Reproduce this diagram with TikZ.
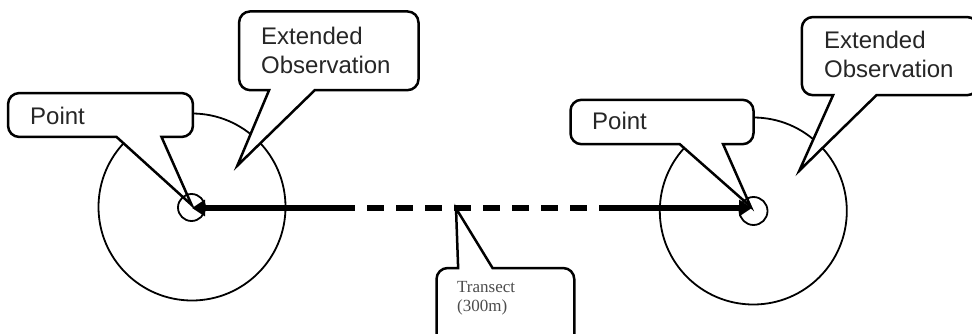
\documentclass[tikz,border=0pt]{standalone}
\usepackage{fontspec}
\setmainfont{Liberation Sans}
\newfontfamily\transectface{Liberation Serif}
\usetikzlibrary{arrows.meta,calc}

\tikzset{
  ring/.style={draw, circle, line width=1.8pt, inner sep=0pt, minimum size=#1},
  boxarea/.style 2 args={rectangle, inner sep=0pt, minimum width=#1, minimum height=#2},
  balloonline/.style={draw=black, fill=white, line width=2.5pt, line join=miter},
  lbl/.style={inner sep=0pt, text=black!85, font=\fontsize{24pt}{29.5pt}\selectfont},
  smalllbl/.style={inner sep=0pt, text=black!70, font=\transectface\fontsize{17pt}{18.7pt}\selectfont},
  trline/.style={line width=6pt},
  tip/.tip={Triangle[length=13pt,width=16pt]}
}

\def\br{11pt}
% callout with pointer leaving the bottom edge:
% #1 box node, #2/#3 pointer base offsets from left edge, #4 pointer tip
\newcommand\balloon[4]{%
  \draw[balloonline] ($(#1.south west)+(#2,0)$) -- (#4) -- ($(#1.south west)+(#3,0)$)
    -- ($(#1.south east)+(-\br,0)$) arc[start angle=-90,end angle=0,radius=\br]
    -- ($(#1.north east)+(0,-\br)$) arc[start angle=0,end angle=90,radius=\br]
    -- ($(#1.north west)+(\br,0)$) arc[start angle=90,end angle=180,radius=\br]
    -- ($(#1.south west)+(0,\br)$) arc[start angle=180,end angle=270,radius=\br]
    -- cycle;}
% callout with pointer leaving the top edge
\newcommand\balloonup[4]{%
  \draw[balloonline] ($(#1.north west)+(#2,0)$) -- (#4) -- ($(#1.north west)+(#3,0)$)
    -- ($(#1.north east)+(-\br,0)$) arc[start angle=90,end angle=0,radius=\br]
    -- ($(#1.south east)+(0,\br)$) arc[start angle=0,end angle=-90,radius=\br]
    -- ($(#1.south west)+(\br,0)$) arc[start angle=270,end angle=180,radius=\br]
    -- ($(#1.north west)+(0,-\br)$) arc[start angle=180,end angle=90,radius=\br]
    -- cycle;}

\begin{document}
\begin{tikzpicture}[x=1pt,y=1pt]
\useasboundingbox (0,0) rectangle (972,333);
\fill[white] (0,0) rectangle (972,333);
\clip (0,0) rectangle (972,333);

% observation areas
\node[ring=187pt] (areaL) at (192,126) {};
\node[ring=187pt] (areaR) at (753.3,122) {};

% callout boxes
\node[boxarea={179pt}{78.3pt}] (extLbox) at (328.8,282.2) {};
\node[boxarea={184.4pt}{43.4pt}] (ptLbox) at (100.5,218) {};
\node[boxarea={176pt}{77.7pt}] (extRbox) at (890,276.9) {};
\node[boxarea={182.6pt}{44pt}] (ptRbox) at (662,211) {};
\node[boxarea={137.3pt}{76.7pt}] (trbox) at (505.4,26.4) {};

% pointer tips
\coordinate (aimExtL) at (237.3,167.3);
\coordinate (aimPtL) at (191.7,128);
\coordinate (aimExtR) at (799.3,162.3);
\coordinate (aimPtR) at (750.7,126.3);
\coordinate (aimTr) at (456,124.7);

\balloon{extLbox}{30}{75.7}{aimExtL}
\balloon{ptLbox}{108.4}{153.4}{aimPtL}
\balloon{extRbox}{31.3}{74.7}{aimExtR}
\balloon{ptRbox}{109.3}{152.6}{aimPtR}
\balloonup{trbox}{21.6}{56}{aimTr}

% labels
\node[lbl, anchor=base west] (extLtext) at (261,289) {\parbox[t]{150pt}{Extended\\Observation}};
\node[lbl, anchor=base west] (ptLtext) at (30,208.7) {Point};
\node[lbl, anchor=base west] (extRtext) at (824,284.7) {\parbox[t]{150pt}{Extended\\Observation}};
\node[lbl, anchor=base west] (ptRtext) at (592,203.7) {Point};
\node[smalllbl, anchor=base west] (trtext) at (457,40.3) {\parbox[t]{100pt}{Transect\\(300m)}};

% transect between the two points
\coordinate (endL) at (192,125);
\coordinate (dashA) at (355,125);
\coordinate (dashB) at (599,125);
\coordinate (endR) at (752,125);
\draw[trline, tip-] (endL) -- (dashA);
\draw[trline, dash pattern=on 17pt off 12pt, dash phase=17pt] (dashA) -- (dashB);
\draw[trline, -tip] (dashB) -- (endR);

% point markers
\node[ring=27pt] (ptL) at (191.5,125.5) {};
\node[ring=28pt] (ptR) at (753.5,122) {};
\end{tikzpicture}
\end{document}
